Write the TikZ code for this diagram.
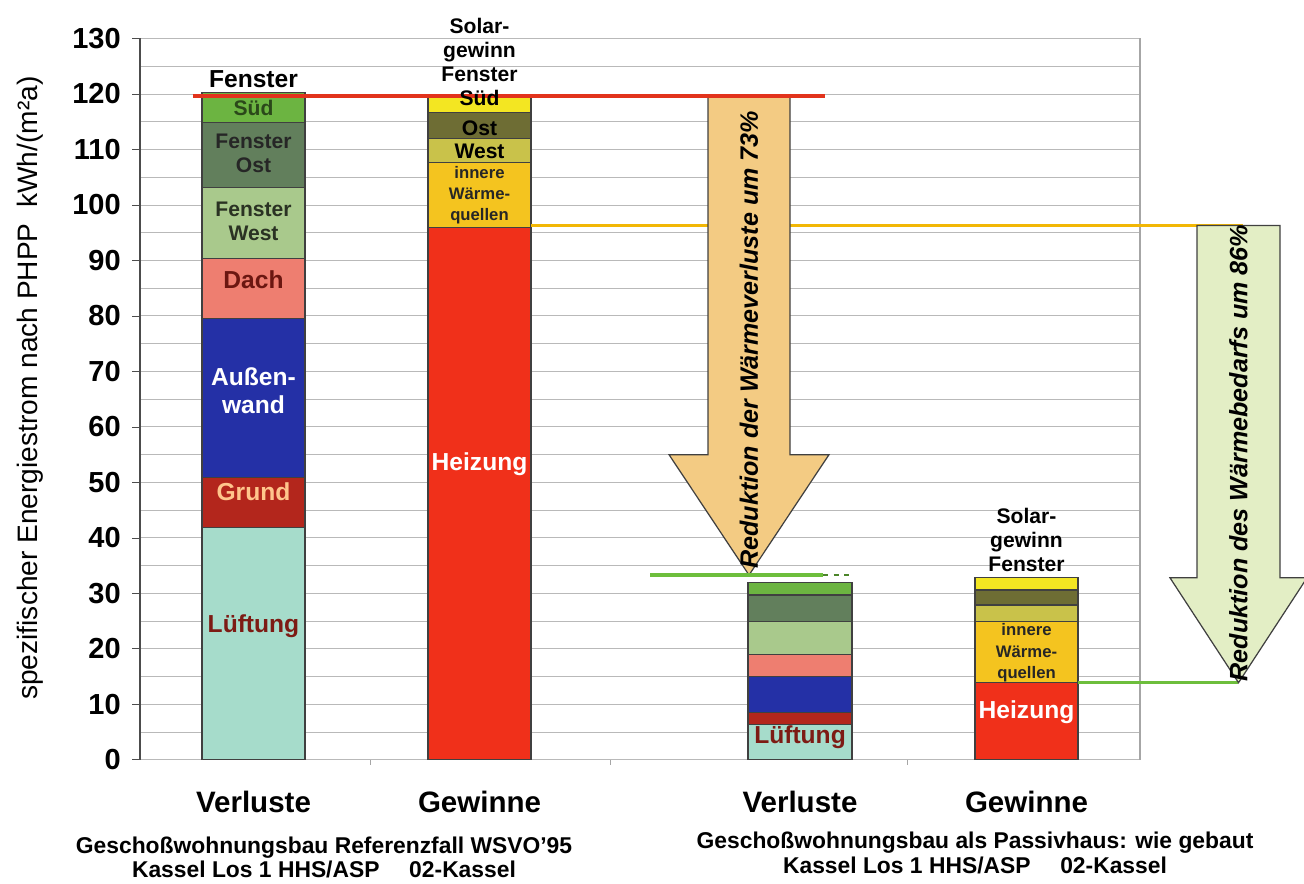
\documentclass[tikz,border=0pt]{standalone}
\usepackage{fontspec}
\setmainfont{Liberation Sans}
\usetikzlibrary{positioning}

% Farben der Anteile
\definecolor{lueftung}{HTML}{A6DCCB}
\definecolor{grund}{HTML}{B3261C}
\definecolor{wand}{HTML}{2430A6}
\definecolor{dach}{HTML}{EE7E70}
\definecolor{fwest}{HTML}{A9C98C}
\definecolor{fost}{HTML}{627F5C}
\definecolor{fsued}{HTML}{6CB441}
\definecolor{heizung}{HTML}{F0301A}
\definecolor{innere}{HTML}{F4C41F}
\definecolor{swest}{HTML}{C9C24A}
\definecolor{sost}{HTML}{6E6D34}
\definecolor{ssued}{HTML}{F3E622}
\definecolor{pfeilA}{HTML}{F3CB83}
\definecolor{pfeilB}{HTML}{E3EEC5}
\definecolor{linieRot}{HTML}{E2331C}
\definecolor{linieGelb}{HTML}{F2B705}
\definecolor{linieGruen}{HTML}{6DBE3C}

\tikzset{
  seg/.style={draw=black!75, line width=0.6pt},
  ticklbl/.style={font=\bfseries\fontsize{16.5}{18}\selectfont, anchor=east, inner sep=0pt},
  lbl/.style={font=\bfseries\fontsize{14}{16}\selectfont, align=center, inner sep=0pt},
  lblS/.style={font=\bfseries\fontsize{12}{13.5}\selectfont, align=center, inner sep=0pt},
  lblXS/.style={font=\bfseries\fontsize{9.5}{12}\selectfont, align=center, inner sep=0pt},
  kat/.style={font=\bfseries\fontsize{16.8}{18}\selectfont, inner sep=0pt},
  unterschrift/.style={font=\bfseries\fontsize{13}{14.2}\selectfont, align=center, inner sep=0pt},
  pfeiltext/.style={font=\bfseries\itshape\fontsize{14.3}{16}\selectfont, rotate=90, inner sep=0pt},
}

\begin{document}
\begin{tikzpicture}[x=0.02cm, y=0.111cm]
  \useasboundingbox (0,-22.34) rectangle (1304,136.94);

  % Raster
  \foreach \v in {0,5,...,130}
    \draw[gray!55, line width=0.5pt] (140,\v) -- (1140,\v);
  \draw[gray!70, line width=0.6pt] (1140,0) -- (1140,130);
  \draw[black!70, line width=0.7pt] (140,0) -- (140,130);
  \foreach \v in {0,10,...,130} {
    \draw[black!70] (132,\v) -- (140,\v);
    \node[ticklbl] (t\v) at (121,\v) {\v};
  }
  \foreach \x in {370,610,907}
    \draw[gray!70] (\x,0) -- (\x,-1);

  % Referenzfall: Verluste
  \foreach \lo/\hi/\c in {0/41.8/lueftung, 41.8/50.8/grund, 50.8/79.6/wand,
      79.6/90.4/dach, 90.4/103.2/fwest, 103.2/114.8/fost, 114.8/120.2/fsued}
    \filldraw[seg, fill=\c] (202,\lo) rectangle (305,\hi);

  % Referenzfall: Gewinne
  \foreach \lo/\hi/\c in {0/96/heizung, 96/107.6/innere, 107.6/112/swest,
      112/116.6/sost, 116.6/119.5/ssued}
    \filldraw[seg, fill=\c] (428,\lo) rectangle (531,\hi);

  % Passivhaus: Verluste
  \foreach \lo/\hi/\c in {0/6.3/lueftung, 6.3/8.5/grund, 8.5/15/wand,
      15/19/dach, 19/24.9/fwest, 24.9/29.7/fost, 29.7/32/fsued}
    \filldraw[seg, fill=\c] (748,\lo) rectangle (852,\hi);

  % Passivhaus: Gewinne
  \foreach \lo/\hi/\c in {0/13.9/heizung, 13.9/24.9/innere, 24.9/27.9/swest,
      27.9/30.6/sost, 30.6/32.8/ssued}
    \filldraw[seg, fill=\c] (975,\lo) rectangle (1078,\hi);

  % Niveaulinien
  \coordinate (rotL) at (193,119.6);
  \coordinate (rotR) at (825,119.6);
  \coordinate (gelbL) at (531,96.3);
  \coordinate (gelbR) at (1243,96.3);
  \coordinate (gruenL) at (650,33.3);
  \coordinate (gruenM) at (823,33.3);
  \coordinate (gruenR) at (852,33.3);
  \coordinate (gruen2L) at (1078,13.9);
  \coordinate (gruen2R) at (1238,13.9);
  \draw[linieGelb, line width=1.8pt] (gelbL) -- (gelbR);
  \draw[linieGruen, line width=1.8pt] (gruen2L) -- (gruen2R);

  % Pfeile
  \filldraw[fill=pfeilA, draw=black!75, line width=0.7pt]
    (708,119.6) -- (790,119.6) -- (790,55) -- (829,55) -- (749,33.3)
    -- (669,55) -- (708,55) -- cycle;
  \filldraw[fill=pfeilB, draw=black!75, line width=0.7pt]
    (1197,96.3) -- (1280,96.3) -- (1280,32.8) -- (1307,32.8) -- (1238.5,13.9)
    -- (1170,32.8) -- (1197,32.8) -- cycle;
  \draw[linieRot, line width=2.2pt] (rotL) -- (rotR);
  \draw[linieGruen, line width=1.8pt] (gruenL) -- (gruenM);
  \draw[linieGruen!70!black, line width=1.5pt, dashed] (gruenM) -- (gruenR);
  \node[pfeiltext] (redVerl) at (749,75.7) {Reduktion der Wärmeverluste um 73\%};
  \node[pfeiltext] (redBed) at (1238.5,55.3) {Reduktion des Wärmebedarfs um 86\%};

  % Beschriftung Referenzfall
  \node[lbl] (fSued) at (253.5,122.7) {Fenster};
  \node[lblS, text=fsued!40!black] (sued) at (253.5,117.5) {Süd};
  \node[lblS, text=black!85] (fOst) at (253.5,109.3) {Fenster\\Ost};
  \node[lblS, text=fwest!25!black] (fWest) at (253.5,97) {Fenster\\West};
  \node[lbl, text=grund!60!black] (dach) at (253.5,86.5) {Dach};
  \node[lbl, text=white] (wand) at (253.5,66.5) {Außen-\\wand};
  \node[lbl, text=orange!45] (grund) at (253.5,48.3) {Grund};
  \node[lbl, text=grund!70!black] (lueft) at (253.5,24.1) {Lüftung};

  \node[lblS] (solar) at (479.5,127.9) {Solar-\\gewinn\\Fenster};
  \node[lblS] (sSued) at (479.5,119.2) {Süd};
  \node[lblS] (sOst) at (479.5,113.9) {Ost};
  \node[lblS] (sWest) at (479.5,109.7) {West};
  \node[lblXS, text=black!85] (innere) at (479.5,101.8) {innere\\Wärme-\\quellen};
  \node[lbl, text=white] (heiz) at (479.5,53.2) {Heizung};

  % Beschriftung Passivhaus
  \node[lbl, text=grund!70!black] (lueftP) at (800,4) {Lüftung};
  \node[lblS] (solarP) at (1026.5,39.6) {Solar-\\gewinn\\Fenster};
  \node[lblXS, text=black!85] (innereP) at (1026.5,19.3) {innere\\Wärme-\\quellen};
  \node[lbl, text=white] (heizP) at (1026.5,8.5) {Heizung};

  % Achse und Kategorien
  \node[rotate=90, font=\fontsize{16}{17}\selectfont] (achse) at (30,67)
    {spezifischer Energiestrom nach PHPP\ \ kWh/(m²a)};
  \node[kat] (verlRef) at (253.5,-7.6) {Verluste};
  \node[kat] (gewRef) at (479.5,-7.6) {Gewinne};
  \node[kat] (verlP) at (800,-7.6) {Verluste};
  \node[kat] (gewP) at (1026.5,-7.6) {Gewinne};
  \node[unterschrift] (capRef) at (324,-17.6)
    {Geschoßwohnungsbau Referenzfall WSVO'95\\Kassel Los 1 HHS/ASP\hspace{1.3em}02-Kassel};
  \node[unterschrift] (capP) at (975,-16.8)
    {Geschoßwohnungsbau als Passivhaus: wie gebaut\\Kassel Los 1 HHS/ASP\hspace{1.3em}02-Kassel};
\end{tikzpicture}
\end{document}
